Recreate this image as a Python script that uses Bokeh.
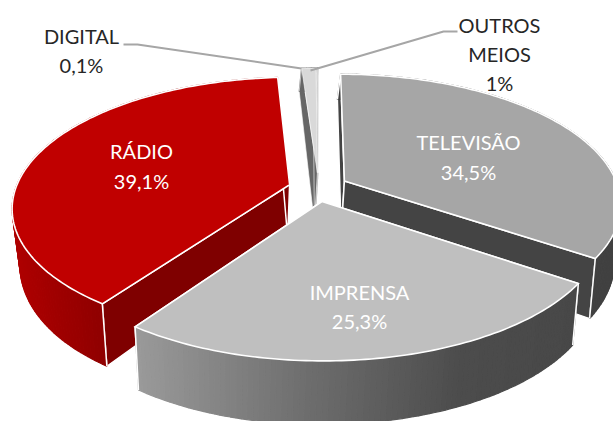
import numpy as np
from bokeh.plotting import figure
from bokeh.core.properties import value
from bokeh.embed import file_html
from bokeh.resources import INLINE

# ---- data
categories = ["TELEVISÃO", "IMPRENSA", "RÁDIO", "OUTROS MEIOS", "DIGITAL"]
shares = [34.5, 25.3, 39.1, 1.0, 0.1]
share_labels = ["34,5%", "25,3%", "39,1%", "1%", "0,1%"]

# ---- styles
top_colors = ["#A6A6A6", "#BFBFBF", "#C00000", "#D9D9D9", "#BFBFBF"]
cut_colors = ["#444444", "#4A4A4A", "#7F0000", "#666666", "#666666"]
edge_widths = [1.6, 1.6, 1.6, 0.6, 0.6]
side_stops = [
    ([0, 1], ["#414141", "#414141"]),
    ([135, 297, 397, 463, 580], ["#9A9A9A", "#707070", "#5A5A5A", "#4C4C4C", "#484848"]),
    ([12, 110], ["#AE0000", "#8C0000"]),
    ([0, 1], ["#666666", "#666666"]),
    ([0, 1], ["#666666", "#666666"]),
]
draw_order = [4, 3, 0, 2, 1]

# ---- projection of the exploded pie, in reference pixels
CX, CY, RX, RY, K, EXPL = 316.0, 186.0, 274.0, 127.0, 0.17, 0.11
slice_shift = [(1.5, 1.0), (0.0, 1.0), (2.0, 2.0), (2.0, 0.0), (2.0, 0.0)]

def proj(theta, mid, r=1.0):
    u = r * np.sin(theta) + EXPL * np.sin(mid)
    v = r * np.cos(theta) + EXPL * np.cos(mid)
    s = 1.0 / (1.0 + K * v)
    x = CX + RX * u * s
    y = CY - RY * v * s
    return x, y, v

def lower(x, y, v):
    d = 52.8 - 18.2 * v - 7.6 * v * v
    dx = np.where(x < CX, -3 + (CX - x) * 0.035, -3 - (x - CX) * 0.01)
    return x + dx, y + d

def lerp_color(x, xs, cols):
    rgb = [np.interp(x, xs, [int(c[i:i + 2], 16) for c in cols]) for i in (1, 3, 5)]
    return "#%02x%02x%02x" % tuple(int(round(c)) for c in rgb)

p = figure(width=613, height=421, x_range=(0, 613), y_range=(421, 0),
           output_backend="svg", toolbar_location=None, min_border=0,
           outline_line_color=None, background_fill_color="white")
p.axis.visible = False
p.grid.visible = False

edges = np.deg2rad(np.concatenate([[0], np.cumsum(shares)]) * 3.6)

for i in draw_order:
    a0, a1 = edges[i], edges[i + 1]
    mid = (a0 + a1) / 2
    sx, sy = slice_shift[i]
    w = edge_widths[i]
    th = np.linspace(a0, a1, max(4, int(np.degrees(a1 - a0))))
    tx, ty, tv = proj(th, mid)
    ax, ay, av = proj(np.array([0.0]), mid, r=0.0)
    bx, by = lower(tx, ty, tv)
    abx, aby = lower(ax, ay, av)
    tx, ty, bx, by = tx + sx, ty + sy, bx + sx, by + sy
    ax, ay, abx, aby = ax + sx, ay + sy, abx + sx, aby + sy
    # cut faces
    for e in (0, -1):
        p.patch([ax[0], tx[e], bx[e], abx[0]], [ay[0], ty[e], by[e], aby[0]],
                fill_color=cut_colors[i], line_color="white", line_width=min(w, 1.5))
    # outer wall, in narrow strips
    xs_, ys_, cols = [], [], []
    for j in range(len(th) - 1):
        xs_.append([tx[j], tx[j + 1], bx[j + 1], bx[j]])
        ys_.append([ty[j], ty[j + 1], by[j + 1], by[j]])
        cols.append(lerp_color((tx[j] + tx[j + 1]) / 2, *side_stops[i]))
    p.patches(xs_, ys_, fill_color=cols, line_color=cols, line_width=1.2)
    # white corner lines of the wall
    for e in (0, -1):
        p.line([tx[e], bx[e]], [ty[e], by[e]], line_color="white", line_width=min(w, 1.5))
    # top face
    p.patch(np.r_[ax, tx], np.r_[ay, ty], fill_color=top_colors[i],
            line_color="white", line_width=w, line_join="miter")

# leader lines
p.line([123, 137, 301], [44, 44, 68], line_color="#A6A6A6", line_width=2)
p.line([310, 443, 457], [70, 31, 31], line_color="#A6A6A6", line_width=2)

FONT = value("Lato")
label_x = [468, 359, 141, 499, 81]
label_y = [[141, 171], [291, 320], [150, 180], [24, 53, 82], [35, 64]]
label_col = ["white", "white", "white", "#262626", "#262626"]
name_lines = [["TELEVISÃO"], ["IMPRENSA"], ["RÁDIO"], ["OUTROS", "MEIOS"], ["DIGITAL"]]
for i in range(5):
    lines = name_lines[i] + [share_labels[i]]
    p.text([label_x[i]] * len(lines), label_y[i], text=lines, text_font=FONT,
           text_font_size="20px", text_color=label_col[i], text_align="center",
           text_baseline="middle")

open("out.html", "w").write(file_html(p, INLINE))
